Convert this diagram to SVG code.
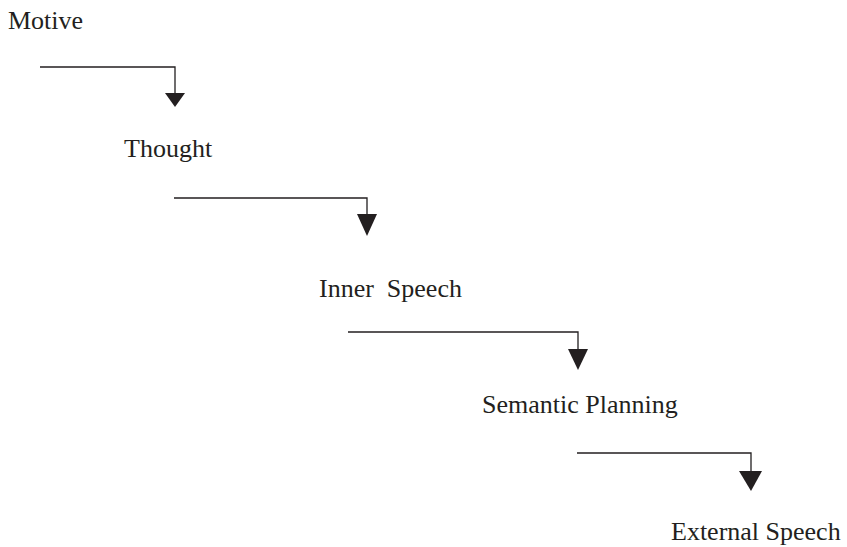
<svg xmlns="http://www.w3.org/2000/svg" width="847" height="547" viewBox="0 0 847 547">
<style>
text { font-family: "Liberation Serif", "Times New Roman", serif; font-size: 26px; fill: #231f20; }
.ln { fill: none; stroke: #231f20; stroke-width: 1.3; }
.ah { fill: #231f20; stroke: none; }
</style>
<rect width="847" height="547" fill="#ffffff"/>
<g id="motive"><text x="8" y="29">Motive</text></g>
<g id="thought"><text x="124" y="157">Thought</text></g>
<g id="inner-speech"><text x="319" y="297" xml:space="preserve">Inner  Speech</text></g>
<g id="semantic-planning"><text x="482" y="413">Semantic Planning</text></g>
<g id="external-speech"><text x="671" y="540">External Speech</text></g>
<g id="connectors">
  <path class="ln" d="M40,67 H175 V94"/>
  <polygon class="ah" points="165,93 185,93 175,107"/>
  <path class="ln" d="M174,198 H367 V215"/>
  <polygon class="ah" points="357,214 377,214 367,236"/>
  <path class="ln" d="M348,332 H578 V350"/>
  <polygon class="ah" points="568,349 588,349 578,370"/>
  <path class="ln" d="M577,453 H751 V472"/>
  <polygon class="ah" points="739,471 762,471 751,491"/>
</g>
</svg>
